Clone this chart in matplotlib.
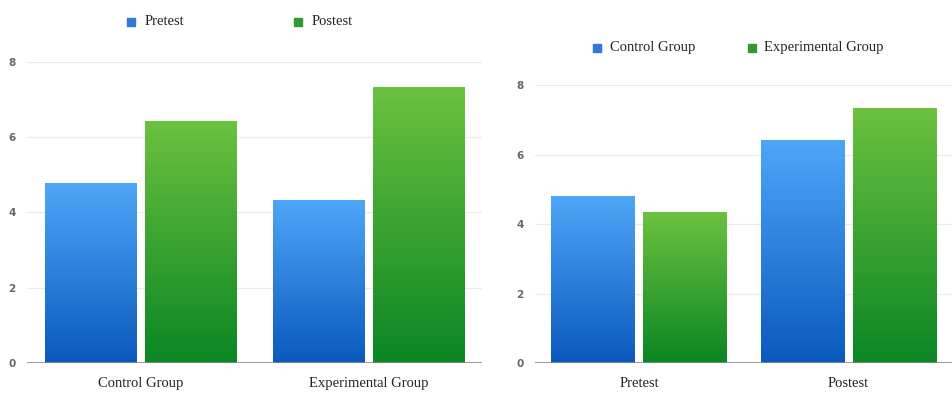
import numpy as np
import matplotlib
matplotlib.use("Agg")
from matplotlib import pyplot as plt
from matplotlib.colors import LinearSegmentedColormap

# group scores
groups = ["Control Group", "Experimental Group"]
tests = ["Pretest", "Postest"]
pretest = [4.78, 4.33]
postest = [6.41, 7.32]
control = [4.78, 6.41]
experimental = [4.33, 7.32]

blue_cmap = LinearSegmentedColormap.from_list("blue", ["#0b59bd", "#4ea6f8"])
green_cmap = LinearSegmentedColormap.from_list("green", ["#0a8624", "#6cc13f"])
blue_key = "#2f7ad6"
green_key = "#2f9a35"

serif = "Liberation Serif"
grad = np.linspace(0, 1, 256).reshape(-1, 1)

fig = plt.figure(figsize=(9.53, 3.93), dpi=100)


def gradient_bars(ax, x, values, offset, cmap):
    bars = ax.bar(x + offset, values, width=0.40, color="none", zorder=3)
    for b in bars:
        x0 = b.get_x()
        ax.imshow(grad, cmap=cmap, origin="lower", aspect="auto",
                  extent=[x0, x0 + b.get_width(), 0, b.get_height()],
                  zorder=3, interpolation="bilinear")
    return bars


def style_axes(ax, cats):
    ax.set_xlim(-0.5, 1.5)
    ax.set_ylim(0, 8)
    ax.set_yticks([0, 2, 4, 6, 8])
    ax.set_xticks(range(len(cats)))
    ax.set_xticklabels(cats, fontfamily=serif, fontsize=10.5, color="#222222")
    ax.tick_params(axis="x", length=0, pad=10)
    ax.tick_params(axis="y", length=0, pad=8, labelsize=7.5,
                   labelcolor="#666666")
    for lbl in ax.get_yticklabels():
        lbl.set_fontweight("bold")
    for s in ax.spines.values():
        s.set_visible(False)
    for v in [2, 4, 6, 8]:
        ax.axhline(v, color="#ebebeb", lw=0.9, zorder=1)
    ax.axhline(0, color="#8a8a8a", lw=1.2, zorder=4)


def legend_row(ax, items, xs, y):
    for (label, color), x in zip(items, xs):
        ax.plot([x], [y], marker="s", ms=5.5, color=color, mec=color,
                transform=ax.transAxes, clip_on=False)
        ax.text(x + 0.03, y, label, transform=ax.transAxes, va="center",
                ha="left", fontfamily=serif, fontsize=10.5, color="#222222")


# left: by group
ax1 = fig.add_axes([0.028, 0.0763, 0.478, 0.766])
x = np.arange(len(groups))
gradient_bars(ax1, x, pretest, -0.22, blue_cmap)
gradient_bars(ax1, x, postest, 0.22, green_cmap)
style_axes(ax1, groups)
legend_row(ax1, [("Pretest", blue_key), ("Postest", green_key)],
           [0.229, 0.596], 1.133)

# right: by test
ax2 = fig.add_axes([0.561, 0.0763, 0.439, 0.707])
x = np.arange(len(tests))
gradient_bars(ax2, x, control, -0.22, blue_cmap)
gradient_bars(ax2, x, experimental, 0.22, green_cmap)
style_axes(ax2, tests)
legend_row(ax2, [("Control Group", blue_key), ("Experimental Group", green_key)],
           [0.15, 0.519], 1.135)

fig.savefig("out.png", dpi=100, facecolor="white")
